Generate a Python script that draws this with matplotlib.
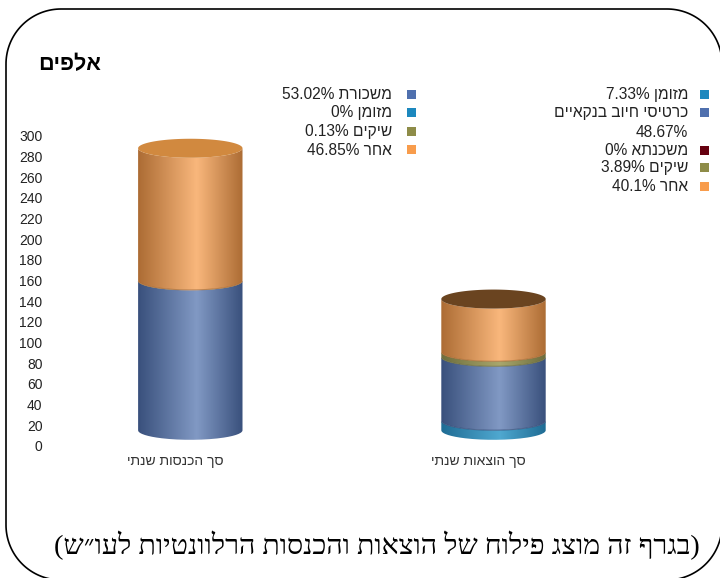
import unicodedata
import numpy as np
import matplotlib
matplotlib.use("Agg")
import matplotlib.pyplot as plt
from matplotlib.patches import PathPatch, Rectangle
from matplotlib.path import Path
from matplotlib.colors import LinearSegmentedColormap
from matplotlib.transforms import ScaledTranslation

W, H = 720, 578

# ---------- data ----------
categories = ["סך הכנסות שנתי", "סך הוצאות שנתי"]
income_segments = ["salary", "cash", "checks", "other"]
income_values = [144.7, 0.0, 0.35, 127.9]
expense_segments = ["cash", "debit", "mortgage", "checks", "other"]
expense_values = [9.3, 61.8, 0.0, 4.9, 51.0]
y_ticks = list(range(0, 301, 20))
title_text = "אלפים"
caption_text = "(בגרף זה מוצג פילוח של הוצאות והכנסות הרלוונטיות לעו״ש)"
income_legend = ["משכורת 53.02%", "מזומן 0%", "שיקים 0.13%", "אחר 46.85%"]
income_legend_keys = ["salary", "cash", "checks", "other"]
expense_legend = ["מזומן 7.33%", "כרטיסי חיוב בנקאיים", "48.67%", "משכנתא 0%", "שיקים 3.89%", "אחר 40.1%"]
expense_legend_keys = ["cash", "debit", None, "mortgage", "checks", "other"]

# ---------- style ----------
swatch = {"salary": "#4F70AE", "debit": "#4F70AE", "cash": "#1C88BE",
          "mortgage": "#660010", "checks": "#8E8C48", "other": "#F89C4C"}
shades = {"salary": ("#39507C", "#8199C4"), "debit": ("#39507C", "#8199C4"),
          "cash": ("#1F6C94", "#4FA8D0"), "mortgage": ("#400008", "#7A0010"),
          "checks": ("#6D6D3D", "#A9A76C"), "other": ("#AC6C34", "#F9B77C")}
top_colors = ["#D1893F", "#6A4420"]
SANS = ["Liberation Sans", "DejaVu Sans"]
SERIF = ["Liberation Serif", "DejaVu Serif"]


def visual(s):
    """matplotlib has no bidi: put logical RTL text into visual order."""
    mirror = {"(": ")", ")": "("}
    runs, cur, cur_h = [], "", None
    for ch in s:
        is_h = unicodedata.bidirectional(ch) == "R"
        kind = cur_h if ch == " " else is_h
        if ch in "()":
            kind = True
        if kind != cur_h and cur:
            runs.append((cur_h, cur))
            cur = ""
        cur_h = kind
        cur += mirror.get(ch, ch)
    runs.append((cur_h, cur))
    out = []
    for is_h, r in reversed(runs):
        out.append(r[::-1] if is_h else r)
    return "".join(out)


fig = plt.figure(figsize=(W / 100, H / 100), dpi=100, facecolor="white")

# ---------- rounded frame ----------
bg = fig.add_axes([0, 0, 1, 1], zorder=0)
bg.set_xlim(0, W)
bg.set_ylim(H, 0)
bg.axis("off")
L, T, R, B, r = 6, 9, 722, 580, 55
pts = []
for cx, cy, a0 in [(L + r, T + r, 180), (R - r, T + r, 270), (R - r, B - r, 0), (L + r, B - r, 90)]:
    a = np.radians(np.linspace(a0, a0 + 90, 40))
    pts.append(np.c_[cx + r * np.cos(a), cy + r * np.sin(a)])
pts = np.vstack(pts + [pts[0][:1]])
bg.add_patch(PathPatch(Path(pts), fc="white", ec="black", lw=1.2))

# ---------- chart axes: 0 at y=445.7 px, 300 at y=135.7 px ----------
ax_l, ax_r = 48, 680
ax = fig.add_axes([ax_l / W, 1 - 445.7 / H, (ax_r - ax_l) / W, 310 / H], zorder=1)
ax.patch.set_alpha(0)
x_per_px = 1 / 303.2
xlim = ((ax_l - 190.3) * x_per_px, (ax_r - 190.3) * x_per_px)
ylim = (0, 300)
half_w = 52.2 * x_per_px
rim = 9.2          # ellipse half height, data units
lift = 14.9        # 3-D floor offset against the scale, data units
cmap_pos = [0, 0.56, 1]


def arc(xc, y, n=80):
    t = np.linspace(np.pi, 2 * np.pi, n)
    return xc + half_w * np.cos(t), y + rim * np.sin(t)


def draw_cylinder(xc, keys, values, top_color):
    y = lift
    gradient = np.linspace(0, 1, 256)[None, :]
    for key, val in zip(keys, values):
        if val <= 0:
            continue
        bx, by = arc(xc, y)
        tx, ty = arc(xc, y + val)
        poly = np.r_[np.c_[bx, by], np.c_[tx[::-1], ty[::-1]], [[bx[0], by[0]]]]
        dark, light = shades[key]
        cmap = LinearSegmentedColormap.from_list(key, list(zip(cmap_pos, [dark, light, dark])))
        im = ax.imshow(gradient, cmap=cmap, aspect="auto", zorder=2,
                       extent=(xc - half_w, xc + half_w, y - rim, y + val + rim))
        im.set_clip_path(PathPatch(Path(poly), transform=ax.transData))
        if y > lift and val > 1:
            ax.plot(bx[2:-2], by[2:-2], color=dark, lw=0.8, zorder=3, alpha=0.7,
                    solid_capstyle="butt")
        y += val
    t = np.linspace(0, 2 * np.pi, 160)
    ax.fill(xc + half_w * np.cos(t), y + rim * np.sin(t), color=top_color, lw=0, zorder=4)


draw_cylinder(0, income_segments, income_values, top_colors[0])
draw_cylinder(1, expense_segments, expense_values, top_colors[1])

ax.set_xlim(xlim)
ax.set_ylim(ylim)
ax.set_yticks(y_ticks)
ax.set_yticklabels([str(v) for v in y_ticks], fontsize=10, family=SANS, color="#222222")
ax.set_xticks([0, 1])
ax.set_xticklabels([visual(c) for c in categories], fontsize=10, family=SANS, color="#333333")
ax.tick_params(axis="both", length=0)
ax.tick_params(axis="y", pad=4)
ax.tick_params(axis="x", pad=6)
shift = ScaledTranslation(-15 / 100, 0, fig.dpi_scale_trans)
for lab in ax.get_xticklabels():
    lab.set_transform(lab.get_transform() + shift)
for s in ax.spines.values():
    s.set_visible(False)


# ---------- legends ----------
def legend(texts, keys, ys, text_x, box_x):
    for txt, key, y in zip(texts, keys, ys):
        bg.text(text_x, y + 0.8, visual(txt), ha="right", va="center", fontsize=11.2,
                family=SANS, color="#222222")
        if key:
            bg.add_patch(Rectangle((box_x - 4.5, y - 4.5), 9, 9, fc=swatch[key], ec="none"))


legend(income_legend, income_legend_keys, [94, 112, 131, 149.5], 392, 411)
legend(expense_legend, expense_legend_keys, [94, 112, 131.5, 150, 167, 186], 688, 704)

# ---------- title and caption ----------
bg.text(69.5, 65, visual(title_text), ha="center", va="center", fontsize=15.5,
        fontweight="bold", family=SANS, color="black")
bg.text(376.5, 545, visual(caption_text), ha="center", va="center", fontsize=20.5,
        family=SERIF, color="black")

fig.savefig("out.png", dpi=100)
